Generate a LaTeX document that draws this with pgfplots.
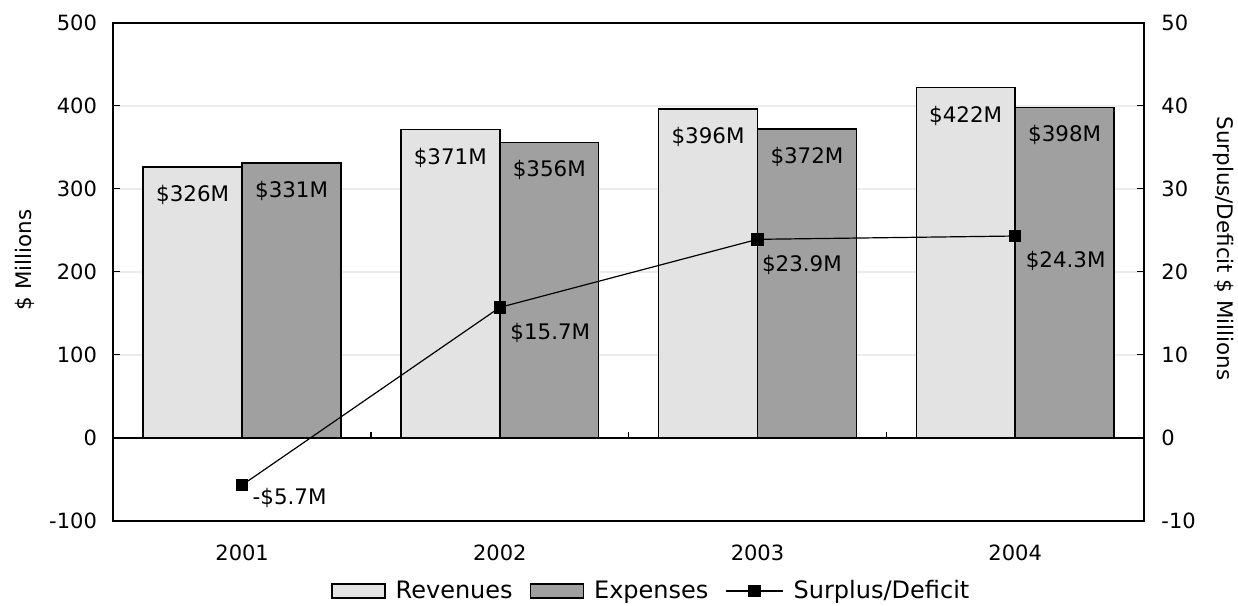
\documentclass[border=0pt]{standalone}
\usepackage{fontspec}
\setmainfont{DejaVu Sans}
\usepackage{pgfplots}
\pgfplotsset{compat=1.18}
\definecolor{revfill}{RGB}{227,227,227}
\definecolor{expfill}{RGB}{160,160,160}
\definecolor{gridgray}{RGB}{236,236,236}
\newcommand\uplab[1]{\raisebox{6pt}[\height][\depth]{#1}}
\begin{document}
\begin{tikzpicture}[font=\fontsize{10.7}{12.8}\selectfont]
\pgfplotsset{
  common/.style={
    scale only axis, width=515.35pt, height=249pt,
    xmin=-0.5, xmax=3.5,
    /pgf/number format/assume math mode=true,
    tick label style={font=\fontsize{10.5}{12.6}\selectfont},
    tick align=inside, major tick length=3.5pt,
    tick style={black, line width=0.6pt},
    axis line style={line width=1pt},
  }
}
\begin{axis}[common,
  ymin=-100, ymax=500,
  ytick={-100,0,100,200,300,400,500}, ytick pos=left,
  yticklabel style={anchor=east, inner sep=0pt, xshift=-8pt},
  xtick={0,1,2,3}, xticklabels={2001,2002,2003,2004},
  xtick style={draw=none},
  xticklabel style={anchor=center, inner sep=0pt, yshift=-12.6pt},
  ymajorgrids, grid style={draw=gridgray, line width=0.8pt},
  ybar=0pt, bar width=0.384,
  ylabel={\$ Millions},
  every axis y label/.style={at={([shift={(-44.15pt,5.85pt)}]rel axis cs:0,0.5)}, rotate=90, anchor=center},
  legend columns=3,
  legend style={draw=none, fill=none, at={([yshift=-35.15pt]rel axis cs:0.521,0)}, anchor=center,
    font=\fontsize{12}{14}\selectfont, inner sep=0pt,
    nodes={inner sep=0pt},
    /tikz/every odd column/.append style={column sep=5pt},
    /tikz/every even column/.append style={column sep=8.5pt}},
  nodes near coords, point meta=explicit symbolic,
  every node near coord/.append style={anchor=center, yshift=-14pt, inner sep=0pt, font=\fontsize{10.7}{12.8}\selectfont},
]
\coordinate (sw) at (rel axis cs:0,0);
\coordinate (ne) at (rel axis cs:1,1);
\addplot[draw=black, line width=0.7pt, fill=revfill,
  legend image code/.code={\draw[draw=black, line width=0.7pt, fill=revfill] (0pt,-3.5pt) rectangle (26.5pt,3.5pt);}]
  coordinates {(0,326) [\$326M] (1,371) [\$371M] (2,396) [\$396M] (3,422) [\$422M]};
\addlegendentry{Revenues}
\addplot[draw=black, line width=0.7pt, fill=expfill,
  legend image code/.code={\draw[draw=black, line width=0.7pt, fill=expfill] (0pt,-3.5pt) rectangle (26.5pt,3.5pt);}]
  coordinates {(0,331) [\$331M] (1,356) [\$356M] (2,372) [\$372M] (3,398) [\$398M]};
\addlegendentry{Expenses}
\addlegendimage{legend image code/.code={\draw[black, line width=0.6pt] (0pt,0pt) -- (28.5pt,0pt); \fill[black] (11.25pt,-2.8pt) rectangle (17.25pt,2.8pt);}}
\addlegendentry{Surplus/Deficit}
\draw[black, line width=1pt] (axis cs:-0.5,0) -- (axis cs:3.5,0);
\draw[black, line width=0.6pt] (axis cs:0.5,0) -- ++(0pt,3pt);
\draw[black, line width=0.6pt] (axis cs:1.5,0) -- ++(0pt,3pt);
\draw[black, line width=0.6pt] (axis cs:2.5,0) -- ++(0pt,3pt);
\end{axis}
\begin{axis}[common,
  ymin=-10, ymax=50,
  axis x line=none, axis y line*=right,
  ytick={-10,0,10,20,30,40,50},
  yticklabel style={anchor=west, inner sep=0pt, xshift=8.5pt},
  ylabel={Surplus/Deficit \$ Millions},
  every axis y label/.style={at={([shift={(39.5pt,11.6pt)}]rel axis cs:1,0.5)}, rotate=-90, anchor=center},
]
\addplot[black, line width=0.6pt, mark=square*, mark size=2.8pt,
  mark options={solid, fill=black},
  nodes near coords, point meta=explicit symbolic,
  every node near coord/.append style={anchor=north west, inner sep=0pt, xshift=5pt, yshift=-7.5pt, font=\fontsize{10.7}{12.8}\selectfont}]
  coordinates {(0,-5.7) [{\uplab{-\$5.7M}}] (1,15.7) [\$15.7M] (2,23.9) [{\hspace*{-3pt}\$23.9M}] (3,24.3) [\$24.3M]};
\end{axis}
\pgfresetboundingbox
\path ([shift={(-56.65pt,-42.15pt)}]sw) rectangle ([shift={(47pt,11.35pt)}]ne);
\end{tikzpicture}
\end{document}
